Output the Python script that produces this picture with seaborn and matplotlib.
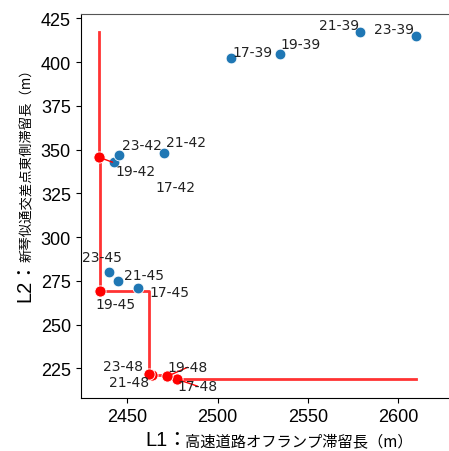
import seaborn as sns
import matplotlib.pyplot as plt
import numpy as np
import pandas as pd

# signal patterns (cycle-split) and queue lengths
labels = ["17-39", "19-39", "21-39", "23-39",
          "17-42", "19-42", "21-42", "23-42",
          "17-45", "19-45", "21-45", "23-45",
          "17-48", "19-48", "21-48", "23-48"]
l1 = [2507.6, 2534.4, 2578.9, 2609.8,
      2442.8, 2434.0, 2470.0, 2445.6,
      2455.9, 2435.0, 2444.8, 2440.0,
      2477.5, 2472.0, 2463.8, 2461.8]
l2 = [402.1, 404.6, 417.3, 415.1,
      342.9, 345.7, 348.0, 346.9,
      270.7, 269.2, 274.7, 280.0,
      218.8, 220.4, 221.0, 221.6]
pareto = ["19-42", "19-45", "23-48", "21-48", "19-48", "17-48"]

# where each label text sits (data coords)
label_pos = {
    "17-39": (2519.4, 405.9), "19-39": (2546.1, 410.2),
    "21-39": (2567.2, 421.0), "23-39": (2597.8, 418.8),
    "17-42": (2476.7, 328.8), "19-42": (2454.4, 338.0),
    "21-42": (2482.2, 354.5), "23-42": (2457.8, 352.8),
    "17-45": (2473.3, 268.8), "19-45": (2443.3, 262.0),
    "21-45": (2459.4, 278.4), "23-45": (2435.6, 288.6),
    "17-48": (2488.9, 214.8), "19-48": (2483.3, 225.6),
    "21-48": (2451.1, 217.0), "23-48": (2447.8, 226.1),
}

df = pd.DataFrame({"label": labels, "L1": l1, "L2": l2})
df["pareto"] = df["label"].isin(pareto)

fig = plt.figure(figsize=(4.49, 4.52), dpi=100)
ax = fig.add_axes([0.1797, 0.1166, 0.885, 0.8496])

# staircase through the pareto points
pf = df[df["pareto"]].sort_values("L1")
sx = [pf["L1"].iloc[0]] + list(pf["L1"]) + [df["L1"].max()]
sy = [df["L2"].max()] + list(pf["L2"]) + [pf["L2"].iloc[-1]]
ax.step(sx, sy, where="post", color="red", lw=2, alpha=0.8, zorder=2)

sns.scatterplot(data=df[~df["pareto"]], x="L1", y="L2", color="#1f77b4",
                s=60, ax=ax, zorder=3)
sns.scatterplot(data=df[df["pareto"]], x="L1", y="L2", color="red",
                s=65, ax=ax, zorder=3)

for lab, x, y, p in zip(df["label"], df["L1"], df["L2"], df["pareto"]):
    tx, ty = label_pos[lab]
    if p:
        ax.annotate(lab, (x, y), xytext=(tx, ty), fontsize=10, color="#222222",
                    ha="center", va="center",
                    arrowprops=dict(arrowstyle="-", color="red", lw=1,
                                    shrinkA=0, shrinkB=0))
    else:
        ax.annotate(lab, (x, y), xytext=(tx, ty), fontsize=10, color="#222222",
                    ha="center", va="center")

ax.set_xlim(2424.1, 2644.3)
ax.set_ylim(207.9, 427.3)
ax.set_xticks([2450, 2500, 2550, 2600])
ax.set_yticks([225, 250, 275, 300, 325, 350, 375, 400, 425])
ax.tick_params(labelsize=13)
for t in ax.get_xticklabels() + ax.get_yticklabels():
    t.set_family("Liberation Sans")
ax.spines["right"].set_visible(False)
ax.spines["top"].set_color("#555555")
ax.set_xlabel("")
ax.set_ylabel("")

big = ["Liberation Sans", "Noto Sans CJK JP"]
jp = ["Noto Sans CJK JP", "DejaVu Sans"]
fig.text(145 / 449, (452 - 446) / 452, "L1：", family=big, fontsize=14.5,
         ha="left", va="baseline")
fig.text(185 / 449, (452 - 446) / 452, "高速道路オフランプ滞留長（m）",
         family=jp, fontsize=11, ha="left", va="baseline")
fig.text(25 / 449, (452 - 302) / 452, "L2：", family=big, fontsize=14.5,
         rotation=90, ha="center", va="bottom")
fig.text(27 / 449, (452 - 262) / 452, "新琴似通交差点東側滞留長（m）",
         family=jp, fontsize=9.6, rotation=90, ha="center", va="bottom")

plt.savefig("out.png", dpi=100)
